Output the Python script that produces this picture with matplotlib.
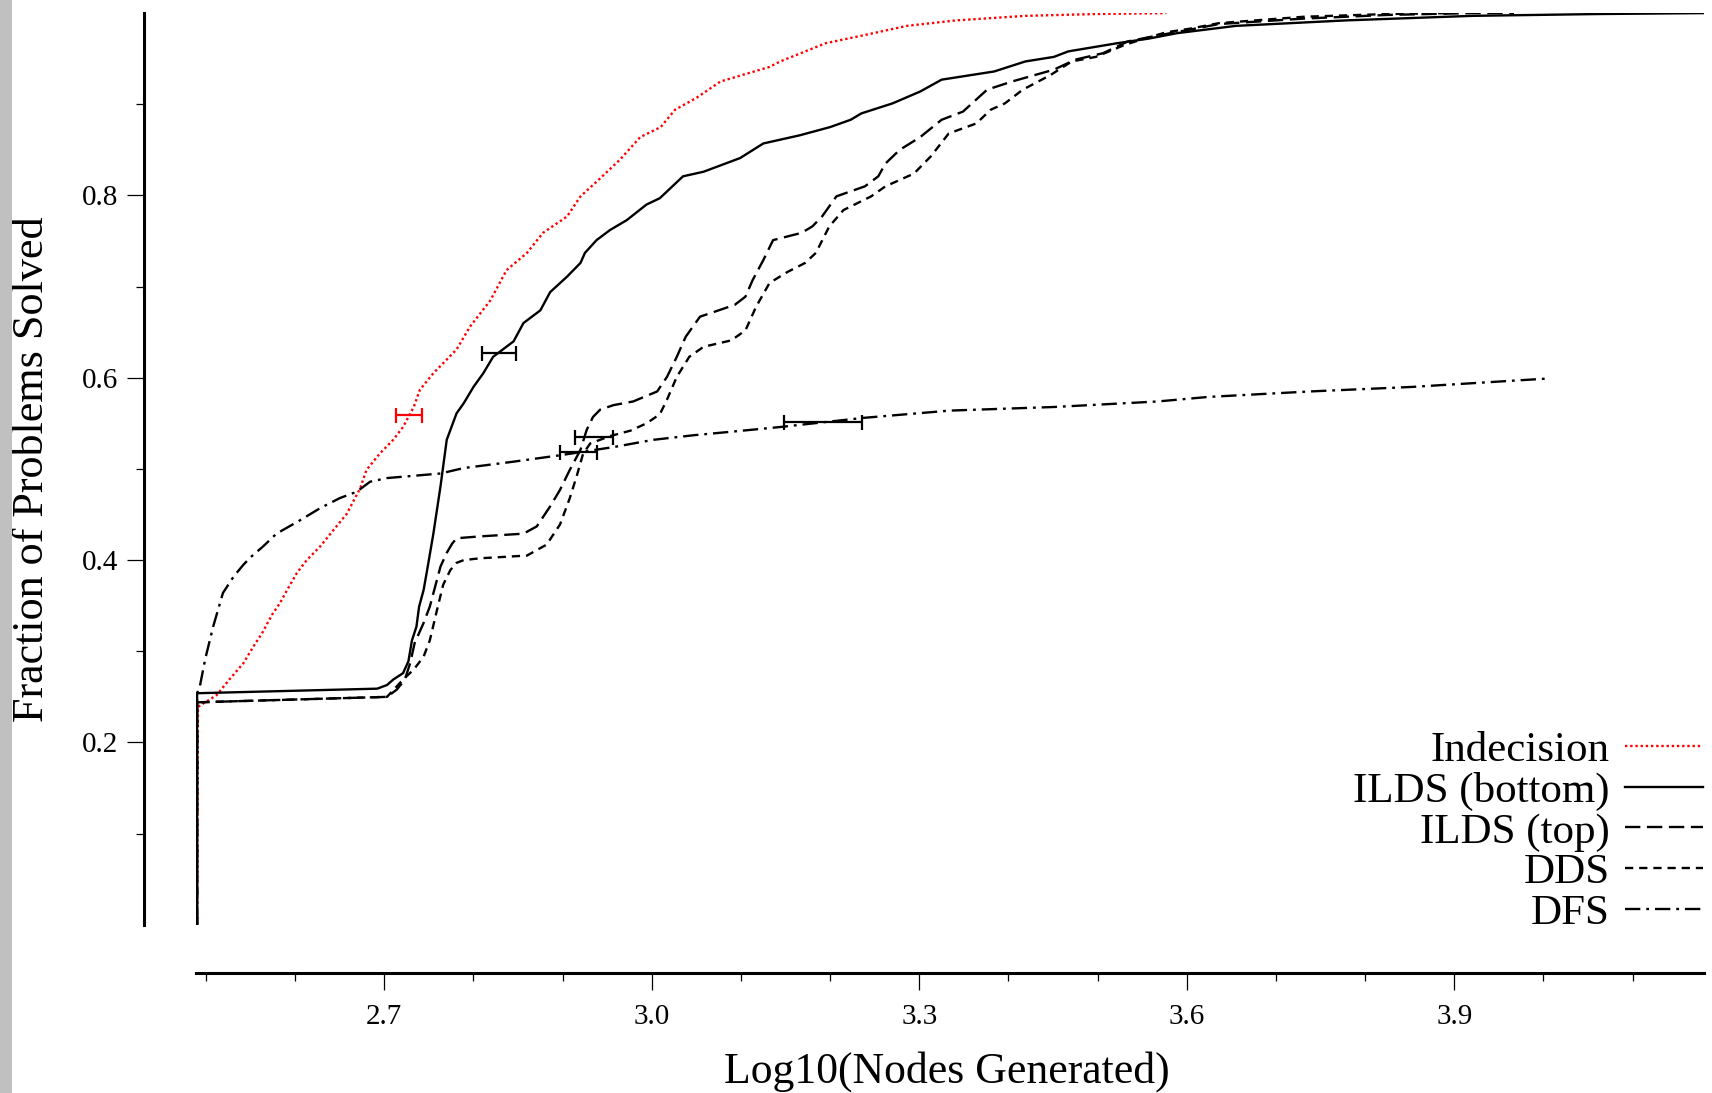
import matplotlib
matplotlib.use("Agg")
import matplotlib.pyplot as plt
from matplotlib.patches import Rectangle

plt.rcParams['font.family'] = ['Liberation Serif', 'DejaVu Serif']

# log10(nodes generated) vs fraction of problems solved
indecision_x = [2.490, 2.491, 2.512, 2.527, 2.542, 2.553, 2.563, 2.574, 2.583, 2.592,
                2.602, 2.613, 2.628, 2.643, 2.658, 2.673, 2.680, 2.695, 2.710, 2.721,
                2.733, 2.740, 2.755, 2.770, 2.781, 2.796, 2.819, 2.837, 2.860, 2.878,
                2.905, 2.920, 2.938, 2.964, 2.987, 3.010, 3.026, 3.050, 3.077, 3.132,
                3.144, 3.195, 3.239, 3.286, 3.341, 3.419, 3.498, 3.577]
indecision_y = [0.0, 0.239, 0.252, 0.270, 0.287, 0.305, 0.320, 0.340, 0.353, 0.369,
                0.386, 0.400, 0.415, 0.433, 0.451, 0.479, 0.499, 0.517, 0.532, 0.546,
                0.568, 0.587, 0.605, 0.620, 0.631, 0.656, 0.685, 0.718, 0.737, 0.759,
                0.777, 0.799, 0.815, 0.839, 0.864, 0.875, 0.894, 0.907, 0.925, 0.941,
                0.947, 0.967, 0.976, 0.986, 0.992, 0.997, 0.999, 1.0]

bottom_x = [2.490, 2.490, 2.692, 2.703, 2.710, 2.721, 2.727, 2.731, 2.736, 2.739,
            2.744, 2.748, 2.755, 2.763, 2.770, 2.781, 2.789, 2.800, 2.811, 2.822,
            2.845, 2.856, 2.875, 2.886, 2.905, 2.920, 2.925, 2.938, 2.953, 2.972,
            2.994, 3.009, 3.035, 3.058, 3.099, 3.125, 3.166, 3.200, 3.223, 3.235,
            3.270, 3.301, 3.325, 3.384, 3.419, 3.451, 3.467, 3.522, 3.557, 3.589,
            3.655, 3.778, 3.920, 4.062, 4.180]
bottom_y = [0.0, 0.254, 0.259, 0.263, 0.269, 0.276, 0.289, 0.312, 0.327, 0.349,
            0.367, 0.389, 0.429, 0.481, 0.532, 0.561, 0.572, 0.590, 0.605, 0.623,
            0.640, 0.660, 0.674, 0.694, 0.711, 0.726, 0.737, 0.751, 0.762, 0.773,
            0.790, 0.797, 0.821, 0.826, 0.841, 0.857, 0.866, 0.875, 0.883, 0.890,
            0.901, 0.914, 0.927, 0.936, 0.947, 0.952, 0.958, 0.967, 0.972, 0.978,
            0.986, 0.992, 0.997, 0.999, 1.0]

top_x = [2.490, 2.490, 2.703, 2.714, 2.723, 2.729, 2.734, 2.744, 2.751, 2.757,
         2.763, 2.770, 2.776, 2.781, 2.807, 2.856, 2.871, 2.886, 2.897, 2.908,
         2.920, 2.927, 2.934, 2.942, 2.957, 2.979, 3.006, 3.017, 3.028, 3.038,
         3.054, 3.066, 3.093, 3.105, 3.113, 3.125, 3.136, 3.168, 3.180, 3.191,
         3.207, 3.239, 3.254, 3.262, 3.278, 3.301, 3.325, 3.349, 3.376, 3.404,
         3.451, 3.475, 3.506, 3.534, 3.565, 3.604, 3.636, 3.731, 3.825, 3.920,
         3.967]
top_y = [0.0, 0.244, 0.250, 0.258, 0.269, 0.287, 0.309, 0.331, 0.349, 0.371,
         0.393, 0.408, 0.418, 0.424, 0.426, 0.429, 0.437, 0.459, 0.477, 0.499,
         0.521, 0.543, 0.557, 0.565, 0.570, 0.574, 0.585, 0.601, 0.623, 0.645,
         0.667, 0.671, 0.680, 0.689, 0.707, 0.729, 0.751, 0.759, 0.766, 0.777,
         0.799, 0.810, 0.821, 0.835, 0.850, 0.864, 0.883, 0.892, 0.916, 0.925,
         0.938, 0.949, 0.956, 0.969, 0.975, 0.982, 0.988, 0.994, 0.998, 1.0,
         1.0]

dds_x = [2.490, 2.490, 2.703, 2.721, 2.733, 2.744, 2.751, 2.759, 2.766, 2.774,
         2.781, 2.789, 2.807, 2.860, 2.882, 2.897, 2.908, 2.916, 2.923, 2.931,
         2.953, 2.976, 2.994, 3.009, 3.017, 3.028, 3.042, 3.058, 3.089, 3.105,
         3.117, 3.132, 3.152, 3.172, 3.184, 3.199, 3.215, 3.246, 3.262, 3.294,
         3.313, 3.333, 3.364, 3.380, 3.396, 3.416, 3.447, 3.471, 3.498, 3.530,
         3.549, 3.577, 3.604, 3.636, 3.731, 3.825, 3.896]
dds_y = [0.0, 0.244, 0.250, 0.269, 0.280, 0.294, 0.312, 0.345, 0.373, 0.389,
         0.397, 0.400, 0.402, 0.405, 0.417, 0.439, 0.468, 0.493, 0.517, 0.528,
         0.536, 0.542, 0.550, 0.560, 0.576, 0.601, 0.623, 0.634, 0.641, 0.652,
         0.678, 0.704, 0.716, 0.726, 0.737, 0.766, 0.784, 0.799, 0.810, 0.824,
         0.843, 0.868, 0.879, 0.894, 0.901, 0.916, 0.932, 0.947, 0.952, 0.965,
         0.971, 0.979, 0.983, 0.989, 0.996, 0.999, 1.0]

dfs_x = [2.490, 2.490, 2.493, 2.499, 2.508, 2.519, 2.531, 2.542, 2.551, 2.564,
         2.579, 2.606, 2.628, 2.650, 2.669, 2.684, 2.703, 2.763, 2.789, 2.845,
         2.897, 2.957, 3.002, 3.047, 3.091, 3.144, 3.237, 3.334, 3.452, 3.567,
         3.624, 3.738, 3.853, 4.002]
dfs_y = [0.0, 0.254, 0.261, 0.291, 0.327, 0.364, 0.382, 0.395, 0.404, 0.415,
         0.429, 0.444, 0.457, 0.468, 0.475, 0.486, 0.490, 0.495, 0.501, 0.508,
         0.515, 0.524, 0.532, 0.537, 0.541, 0.546, 0.556, 0.564, 0.568, 0.574,
         0.579, 0.585, 0.590, 0.599]

# horizontal error bars (Indecision, ILDS bottom, ILDS top, DDS, DFS)
err_x = [2.728, 2.829, 2.918, 2.935, 3.192]
err_y = [0.559, 0.627, 0.519, 0.535, 0.551]
err_half = [0.0144, 0.0192, 0.0206, 0.0211, 0.0437]
err_colors = ['red', 'black', 'black', 'black', 'black']

labels = ['Indecision', 'ILDS (bottom)', 'ILDS (top)', 'DDS', 'DFS']

fig = plt.figure(figsize=(17.12, 10.93), dpi=100)
fig.patches.append(Rectangle((0, 0), 12 / 1712, 1, transform=fig.transFigure,
                             facecolor='#c0c0c0', edgecolor='none'))
ax = fig.add_axes([0.1146, 0.1539, 0.8807, 0.8341])

lw = 1.7
ax.plot(indecision_x, indecision_y, color='red', lw=lw, ls=(0, (1, 1.2)), label=labels[0])
ax.plot(bottom_x, bottom_y, color='black', lw=lw, ls='-', label=labels[1])
ax.plot(top_x, top_y, color='black', lw=lw, ls=(0, (6.5, 2.8)), label=labels[2])
ax.plot(dds_x, dds_y, color='black', lw=lw, ls=(0, (3.5, 2.5)), label=labels[3])
ax.plot(dfs_x, dfs_y, color='black', lw=lw, ls=(0, (6.5, 2.5, 1.2, 2.5)), label=labels[4])

for i in range(len(err_x)):
    ax.errorbar(err_x[i], err_y[i], xerr=err_half[i], fmt='none', ecolor=err_colors[i],
                elinewidth=1.6, capsize=5.4, capthick=1.6)

ax.set_xlim(2.489, 4.18)
ax.set_ylim(0, 1.0)

ax.spines['top'].set_visible(False)
ax.spines['right'].set_visible(False)
ax.spines['left'].set_position(('outward', 37.4))
ax.spines['bottom'].set_position(('outward', 34.9))
ax.spines['left'].set_linewidth(2.2)
ax.spines['bottom'].set_linewidth(2.2)

ax.set_xticks([2.7, 3.0, 3.3, 3.6, 3.9])
ax.set_xticklabels(['2.7', '3.0', '3.3', '3.6', '3.9'])
ax.set_xticks([2.5, 2.6, 2.8, 2.9, 3.1, 3.2, 3.4, 3.5, 3.7, 3.8, 4.0, 4.1], minor=True)
ax.set_yticks([0.2, 0.4, 0.6, 0.8])
ax.set_yticklabels(['0.2', '0.4', '0.6', '0.8'])
ax.set_yticks([0.1, 0.3, 0.5, 0.7, 0.9], minor=True)
ax.tick_params(which='major', direction='out', length=12, width=0.9, labelsize=21)
ax.tick_params(which='minor', direction='out', length=6, width=0.9)
ax.tick_params(axis='y', which='major', pad=7)
ax.tick_params(axis='x', which='major', pad=10)

ax.set_xlabel('Log10(Nodes Generated)', fontsize=31.5)
ax.xaxis.set_label_coords(0.498, -0.139)
ax.set_ylabel('Fraction of Problems Solved', fontsize=31.8)
ax.yaxis.set_label_coords(-0.0956, 0.5)

ax.legend(loc='lower right', bbox_to_anchor=(0.9947, 0.1465), bbox_transform=fig.transFigure,
          frameon=False, markerfirst=False, fontsize=31, handlelength=1.8,
          handletextpad=0.37, labelspacing=0.035, borderpad=0, borderaxespad=0)

fig.savefig('out.png', dpi=100)
